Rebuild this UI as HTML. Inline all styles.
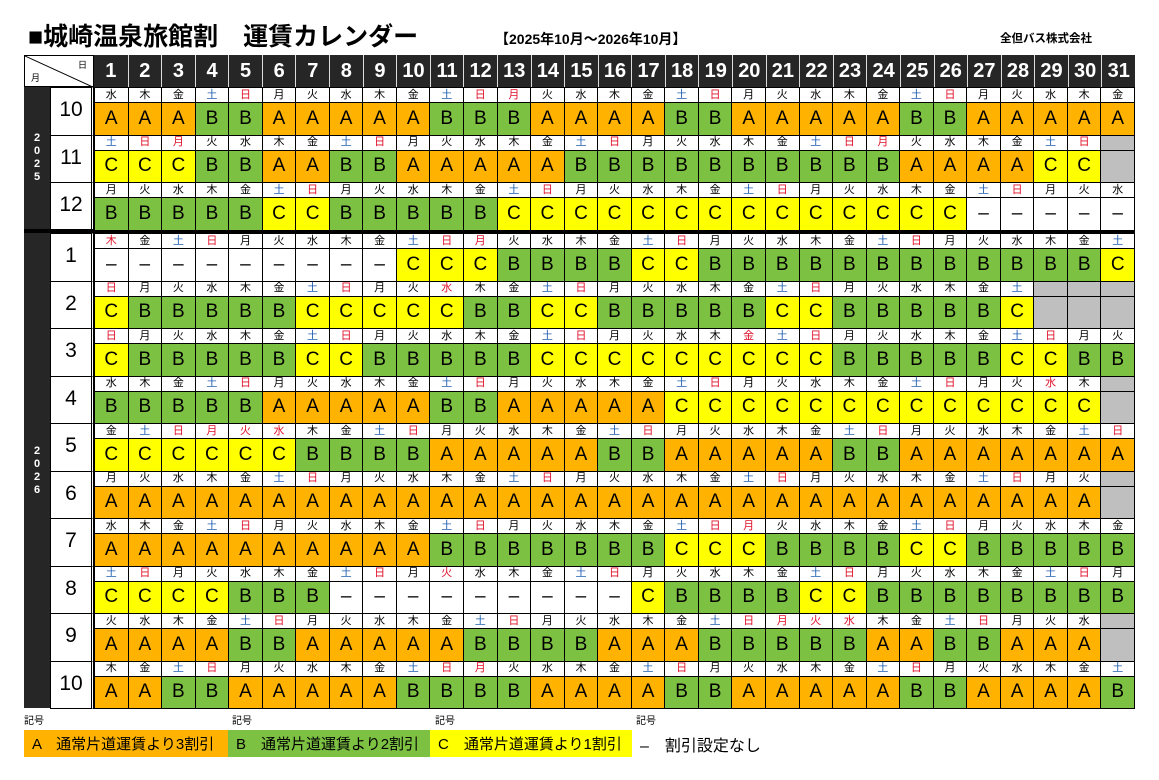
<!DOCTYPE html>
<html lang="ja"><head><meta charset="utf-8">
<style>
*{margin:0;padding:0;box-sizing:border-box}
body{width:1159px;height:780px;background:#fff;position:relative;overflow:hidden;font-family:"Liberation Sans","Noto Sans CJK JP",sans-serif;color:#000}
.abs{position:absolute}
.title{left:28px;top:22px;font-size:25px;font-weight:bold;white-space:nowrap;line-height:30px}
.period{left:495px;top:29px;font-size:14px;font-weight:bold;white-space:nowrap}
.co{left:1000px;top:30px;font-size:11.5px;font-weight:bold;white-space:nowrap}
.corner{left:24px;top:55px;width:70px;height:32px;border:1px solid #000;background:#fff;overflow:hidden}
.corner svg{position:absolute;left:0;top:0}
.corner .m{position:absolute;left:6px;bottom:2px;font-size:9px}
.corner .d{position:absolute;right:6px;top:2px;font-size:9px}
.hdr{left:94px;top:55px;width:1041px;height:32px;background:#262626;display:grid;grid-template-columns:repeat(31,1fr)}
.hdr span{color:#fff;font-weight:bold;font-size:20px;font-family:"Liberation Sans Narrow","Liberation Sans",sans-serif;display:flex;align-items:center;justify-content:center;border-left:1px solid #ddd}
.hdr span:first-child{border-left:none}
.yr{left:24px;width:26px;background:#262626;color:#fff;font-weight:bold;font-size:11px;display:flex;flex-direction:column;align-items:center;justify-content:center;line-height:13px}
.mo{left:50px;width:44px;background:#fff;border:1px solid #000;border-right:3px double #000;display:flex;align-items:center;justify-content:center;font-size:21px;padding-bottom:2px}
.grid{left:94px;width:1041px;display:grid;grid-template-columns:repeat(31,1fr);grid-auto-rows:15px 32.5px;border-top:1px solid #000;border-right:1px solid #000}
.grid i,.grid b{display:flex;align-items:center;justify-content:center;border-left:1px solid #000;border-bottom:1px solid #000;font-style:normal;font-weight:normal;background:#fff}
.grid i{font-size:11px;line-height:1}
.grid b{font-size:19px}
.grid i.s{color:#1f5fb0}
.grid i.h{color:#e0102a}
.grid .a{background:#FFB300}
.grid .b{background:#7DC143}
.grid .c{background:#FFFF00}
.grid .g{background:#BFBFBF}
.sep{left:24px;top:229px;width:1111px;height:4px;background:#000}
.lab{top:712px;font-size:10px}
.lg{top:730px;height:27px;font-size:15px;display:flex;align-items:center;padding-left:8px;white-space:nowrap}
</style></head><body>
<div class="abs title">■城崎温泉旅館割　運賃カレンダー</div>
<div class="abs period">【2025年10月～2026年10月】</div>
<div class="abs co">全但バス株式会社</div>

<div class="abs corner"><svg width="70" height="32"><line x1="0" y1="0" x2="70" y2="32" stroke="#000" stroke-width="1"/></svg><span class="m">月</span><span class="d">日</span></div>
<div class="abs hdr"><span>1</span><span>2</span><span>3</span><span>4</span><span>5</span><span>6</span><span>7</span><span>8</span><span>9</span><span>10</span><span>11</span><span>12</span><span>13</span><span>14</span><span>15</span><span>16</span><span>17</span><span>18</span><span>19</span><span>20</span><span>21</span><span>22</span><span>23</span><span>24</span><span>25</span><span>26</span><span>27</span><span>28</span><span>29</span><span>30</span><span>31</span></div>

<div class="abs yr" style="top:87px;height:142px">2<br>0<br>2<br>5</div>
<div class="abs yr" style="top:233px;height:475px">2<br>0<br>2<br>6</div>

<div class="abs mo" style="top:87px;height:48.5px">10</div>
<div class="abs mo" style="top:134.5px;height:48.5px">11</div>
<div class="abs mo" style="top:182px;height:48px">12</div>
<div class="abs mo" style="top:233px;height:48.5px">1</div>
<div class="abs mo" style="top:280.5px;height:48.5px">2</div>
<div class="abs mo" style="top:328px;height:48.5px">3</div>
<div class="abs mo" style="top:375.5px;height:48.5px">4</div>
<div class="abs mo" style="top:423px;height:48.5px">5</div>
<div class="abs mo" style="top:470.5px;height:48.5px">6</div>
<div class="abs mo" style="top:518px;height:48.5px">7</div>
<div class="abs mo" style="top:565.5px;height:48.5px">8</div>
<div class="abs mo" style="top:613px;height:48.5px">9</div>
<div class="abs mo" style="top:660.5px;height:48px">10</div>

<div class="abs sep"></div>

<div class="abs grid" style="top:87px">
<i>水</i><i>木</i><i>金</i><i class=s>土</i><i class=h>日</i><i>月</i><i>火</i><i>水</i><i>木</i><i>金</i><i class=s>土</i><i class=h>日</i><i class=h>月</i><i>火</i><i>水</i><i>木</i><i>金</i><i class=s>土</i><i class=h>日</i><i>月</i><i>火</i><i>水</i><i>木</i><i>金</i><i class=s>土</i><i class=h>日</i><i>月</i><i>火</i><i>水</i><i>木</i><i>金</i>
<b class=a>A</b><b class=a>A</b><b class=a>A</b><b class=b>B</b><b class=b>B</b><b class=a>A</b><b class=a>A</b><b class=a>A</b><b class=a>A</b><b class=a>A</b><b class=b>B</b><b class=b>B</b><b class=b>B</b><b class=a>A</b><b class=a>A</b><b class=a>A</b><b class=a>A</b><b class=b>B</b><b class=b>B</b><b class=a>A</b><b class=a>A</b><b class=a>A</b><b class=a>A</b><b class=a>A</b><b class=b>B</b><b class=b>B</b><b class=a>A</b><b class=a>A</b><b class=a>A</b><b class=a>A</b><b class=a>A</b>
<i class=s>土</i><i class=h>日</i><i class=h>月</i><i>火</i><i>水</i><i>木</i><i>金</i><i class=s>土</i><i class=h>日</i><i>月</i><i>火</i><i>水</i><i>木</i><i>金</i><i class=s>土</i><i class=h>日</i><i>月</i><i>火</i><i>水</i><i>木</i><i>金</i><i class=s>土</i><i class=h>日</i><i class=h>月</i><i>火</i><i>水</i><i>木</i><i>金</i><i class=s>土</i><i class=h>日</i><i class=g></i>
<b class=c>C</b><b class=c>C</b><b class=c>C</b><b class=b>B</b><b class=b>B</b><b class=a>A</b><b class=a>A</b><b class=b>B</b><b class=b>B</b><b class=a>A</b><b class=a>A</b><b class=a>A</b><b class=a>A</b><b class=a>A</b><b class=b>B</b><b class=b>B</b><b class=b>B</b><b class=b>B</b><b class=b>B</b><b class=b>B</b><b class=b>B</b><b class=b>B</b><b class=b>B</b><b class=b>B</b><b class=a>A</b><b class=a>A</b><b class=a>A</b><b class=a>A</b><b class=c>C</b><b class=c>C</b><b class=g></b>
<i>月</i><i>火</i><i>水</i><i>木</i><i>金</i><i class=s>土</i><i class=h>日</i><i>月</i><i>火</i><i>水</i><i>木</i><i>金</i><i class=s>土</i><i class=h>日</i><i>月</i><i>火</i><i>水</i><i>木</i><i>金</i><i class=s>土</i><i class=h>日</i><i>月</i><i>火</i><i>水</i><i>木</i><i>金</i><i class=s>土</i><i class=h>日</i><i>月</i><i>火</i><i>水</i>
<b class=b>B</b><b class=b>B</b><b class=b>B</b><b class=b>B</b><b class=b>B</b><b class=c>C</b><b class=c>C</b><b class=b>B</b><b class=b>B</b><b class=b>B</b><b class=b>B</b><b class=b>B</b><b class=c>C</b><b class=c>C</b><b class=c>C</b><b class=c>C</b><b class=c>C</b><b class=c>C</b><b class=c>C</b><b class=c>C</b><b class=c>C</b><b class=c>C</b><b class=c>C</b><b class=c>C</b><b class=c>C</b><b class=c>C</b><b>–</b><b>–</b><b>–</b><b>–</b><b>–</b>
</div>

<div class="abs grid" style="top:233px">
<i class=h>木</i><i>金</i><i class=s>土</i><i class=h>日</i><i>月</i><i>火</i><i>水</i><i>木</i><i>金</i><i class=s>土</i><i class=h>日</i><i class=h>月</i><i>火</i><i>水</i><i>木</i><i>金</i><i class=s>土</i><i class=h>日</i><i>月</i><i>火</i><i>水</i><i>木</i><i>金</i><i class=s>土</i><i class=h>日</i><i>月</i><i>火</i><i>水</i><i>木</i><i>金</i><i class=s>土</i>
<b>–</b><b>–</b><b>–</b><b>–</b><b>–</b><b>–</b><b>–</b><b>–</b><b>–</b><b class=c>C</b><b class=c>C</b><b class=c>C</b><b class=b>B</b><b class=b>B</b><b class=b>B</b><b class=b>B</b><b class=c>C</b><b class=c>C</b><b class=b>B</b><b class=b>B</b><b class=b>B</b><b class=b>B</b><b class=b>B</b><b class=b>B</b><b class=b>B</b><b class=b>B</b><b class=b>B</b><b class=b>B</b><b class=b>B</b><b class=b>B</b><b class=c>C</b>
<i class=h>日</i><i>月</i><i>火</i><i>水</i><i>木</i><i>金</i><i class=s>土</i><i class=h>日</i><i>月</i><i>火</i><i class=h>水</i><i>木</i><i>金</i><i class=s>土</i><i class=h>日</i><i>月</i><i>火</i><i>水</i><i>木</i><i>金</i><i class=s>土</i><i class=h>日</i><i>月</i><i>火</i><i>水</i><i>木</i><i>金</i><i class=s>土</i><i class=g></i><i class=g></i><i class=g></i>
<b class=c>C</b><b class=b>B</b><b class=b>B</b><b class=b>B</b><b class=b>B</b><b class=b>B</b><b class=c>C</b><b class=c>C</b><b class=c>C</b><b class=c>C</b><b class=c>C</b><b class=b>B</b><b class=b>B</b><b class=c>C</b><b class=c>C</b><b class=b>B</b><b class=b>B</b><b class=b>B</b><b class=b>B</b><b class=b>B</b><b class=c>C</b><b class=c>C</b><b class=b>B</b><b class=b>B</b><b class=b>B</b><b class=b>B</b><b class=b>B</b><b class=c>C</b><b class=g></b><b class=g></b><b class=g></b>
<i class=h>日</i><i>月</i><i>火</i><i>水</i><i>木</i><i>金</i><i class=s>土</i><i class=h>日</i><i>月</i><i>火</i><i>水</i><i>木</i><i>金</i><i class=s>土</i><i class=h>日</i><i>月</i><i>火</i><i>水</i><i>木</i><i class=h>金</i><i class=s>土</i><i class=h>日</i><i>月</i><i>火</i><i>水</i><i>木</i><i>金</i><i class=s>土</i><i class=h>日</i><i>月</i><i>火</i>
<b class=c>C</b><b class=b>B</b><b class=b>B</b><b class=b>B</b><b class=b>B</b><b class=b>B</b><b class=c>C</b><b class=c>C</b><b class=b>B</b><b class=b>B</b><b class=b>B</b><b class=b>B</b><b class=b>B</b><b class=c>C</b><b class=c>C</b><b class=c>C</b><b class=c>C</b><b class=c>C</b><b class=c>C</b><b class=c>C</b><b class=c>C</b><b class=c>C</b><b class=b>B</b><b class=b>B</b><b class=b>B</b><b class=b>B</b><b class=b>B</b><b class=c>C</b><b class=c>C</b><b class=b>B</b><b class=b>B</b>
<i>水</i><i>木</i><i>金</i><i class=s>土</i><i class=h>日</i><i>月</i><i>火</i><i>水</i><i>木</i><i>金</i><i class=s>土</i><i class=h>日</i><i>月</i><i>火</i><i>水</i><i>木</i><i>金</i><i class=s>土</i><i class=h>日</i><i>月</i><i>火</i><i>水</i><i>木</i><i>金</i><i class=s>土</i><i class=h>日</i><i>月</i><i>火</i><i class=h>水</i><i>木</i><i class=g></i>
<b class=b>B</b><b class=b>B</b><b class=b>B</b><b class=b>B</b><b class=b>B</b><b class=a>A</b><b class=a>A</b><b class=a>A</b><b class=a>A</b><b class=a>A</b><b class=b>B</b><b class=b>B</b><b class=a>A</b><b class=a>A</b><b class=a>A</b><b class=a>A</b><b class=a>A</b><b class=c>C</b><b class=c>C</b><b class=c>C</b><b class=c>C</b><b class=c>C</b><b class=c>C</b><b class=c>C</b><b class=c>C</b><b class=c>C</b><b class=c>C</b><b class=c>C</b><b class=c>C</b><b class=c>C</b><b class=g></b>
<i>金</i><i class=s>土</i><i class=h>日</i><i class=h>月</i><i class=h>火</i><i class=h>水</i><i>木</i><i>金</i><i class=s>土</i><i class=h>日</i><i>月</i><i>火</i><i>水</i><i>木</i><i>金</i><i class=s>土</i><i class=h>日</i><i>月</i><i>火</i><i>水</i><i>木</i><i>金</i><i class=s>土</i><i class=h>日</i><i>月</i><i>火</i><i>水</i><i>木</i><i>金</i><i class=s>土</i><i class=h>日</i>
<b class=c>C</b><b class=c>C</b><b class=c>C</b><b class=c>C</b><b class=c>C</b><b class=c>C</b><b class=b>B</b><b class=b>B</b><b class=b>B</b><b class=b>B</b><b class=a>A</b><b class=a>A</b><b class=a>A</b><b class=a>A</b><b class=a>A</b><b class=b>B</b><b class=b>B</b><b class=a>A</b><b class=a>A</b><b class=a>A</b><b class=a>A</b><b class=a>A</b><b class=b>B</b><b class=b>B</b><b class=a>A</b><b class=a>A</b><b class=a>A</b><b class=a>A</b><b class=a>A</b><b class=a>A</b><b class=a>A</b>
<i>月</i><i>火</i><i>水</i><i>木</i><i>金</i><i class=s>土</i><i class=h>日</i><i>月</i><i>火</i><i>水</i><i>木</i><i>金</i><i class=s>土</i><i class=h>日</i><i>月</i><i>火</i><i>水</i><i>木</i><i>金</i><i class=s>土</i><i class=h>日</i><i>月</i><i>火</i><i>水</i><i>木</i><i>金</i><i class=s>土</i><i class=h>日</i><i>月</i><i>火</i><i class=g></i>
<b class=a>A</b><b class=a>A</b><b class=a>A</b><b class=a>A</b><b class=a>A</b><b class=a>A</b><b class=a>A</b><b class=a>A</b><b class=a>A</b><b class=a>A</b><b class=a>A</b><b class=a>A</b><b class=a>A</b><b class=a>A</b><b class=a>A</b><b class=a>A</b><b class=a>A</b><b class=a>A</b><b class=a>A</b><b class=a>A</b><b class=a>A</b><b class=a>A</b><b class=a>A</b><b class=a>A</b><b class=a>A</b><b class=a>A</b><b class=a>A</b><b class=a>A</b><b class=a>A</b><b class=a>A</b><b class=g></b>
<i>水</i><i>木</i><i>金</i><i class=s>土</i><i class=h>日</i><i>月</i><i>火</i><i>水</i><i>木</i><i>金</i><i class=s>土</i><i class=h>日</i><i>月</i><i>火</i><i>水</i><i>木</i><i>金</i><i class=s>土</i><i class=h>日</i><i class=h>月</i><i>火</i><i>水</i><i>木</i><i>金</i><i class=s>土</i><i class=h>日</i><i>月</i><i>火</i><i>水</i><i>木</i><i>金</i>
<b class=a>A</b><b class=a>A</b><b class=a>A</b><b class=a>A</b><b class=a>A</b><b class=a>A</b><b class=a>A</b><b class=a>A</b><b class=a>A</b><b class=a>A</b><b class=b>B</b><b class=b>B</b><b class=b>B</b><b class=b>B</b><b class=b>B</b><b class=b>B</b><b class=b>B</b><b class=c>C</b><b class=c>C</b><b class=c>C</b><b class=b>B</b><b class=b>B</b><b class=b>B</b><b class=b>B</b><b class=c>C</b><b class=c>C</b><b class=b>B</b><b class=b>B</b><b class=b>B</b><b class=b>B</b><b class=b>B</b>
<i class=s>土</i><i class=h>日</i><i>月</i><i>火</i><i>水</i><i>木</i><i>金</i><i class=s>土</i><i class=h>日</i><i>月</i><i class=h>火</i><i>水</i><i>木</i><i>金</i><i class=s>土</i><i class=h>日</i><i>月</i><i>火</i><i>水</i><i>木</i><i>金</i><i class=s>土</i><i class=h>日</i><i>月</i><i>火</i><i>水</i><i>木</i><i>金</i><i class=s>土</i><i class=h>日</i><i>月</i>
<b class=c>C</b><b class=c>C</b><b class=c>C</b><b class=c>C</b><b class=b>B</b><b class=b>B</b><b class=b>B</b><b>–</b><b>–</b><b>–</b><b>–</b><b>–</b><b>–</b><b>–</b><b>–</b><b>–</b><b class=c>C</b><b class=b>B</b><b class=b>B</b><b class=b>B</b><b class=b>B</b><b class=c>C</b><b class=c>C</b><b class=b>B</b><b class=b>B</b><b class=b>B</b><b class=b>B</b><b class=b>B</b><b class=b>B</b><b class=b>B</b><b class=b>B</b>
<i>火</i><i>水</i><i>木</i><i>金</i><i class=s>土</i><i class=h>日</i><i>月</i><i>火</i><i>水</i><i>木</i><i>金</i><i class=s>土</i><i class=h>日</i><i>月</i><i>火</i><i>水</i><i>木</i><i>金</i><i class=s>土</i><i class=h>日</i><i class=h>月</i><i class=h>火</i><i class=h>水</i><i>木</i><i>金</i><i class=s>土</i><i class=h>日</i><i>月</i><i>火</i><i>水</i><i class=g></i>
<b class=a>A</b><b class=a>A</b><b class=a>A</b><b class=a>A</b><b class=b>B</b><b class=b>B</b><b class=a>A</b><b class=a>A</b><b class=a>A</b><b class=a>A</b><b class=a>A</b><b class=b>B</b><b class=b>B</b><b class=b>B</b><b class=b>B</b><b class=a>A</b><b class=a>A</b><b class=a>A</b><b class=b>B</b><b class=b>B</b><b class=b>B</b><b class=b>B</b><b class=b>B</b><b class=a>A</b><b class=a>A</b><b class=b>B</b><b class=b>B</b><b class=a>A</b><b class=a>A</b><b class=a>A</b><b class=g></b>
<i>木</i><i>金</i><i class=s>土</i><i class=h>日</i><i>月</i><i>火</i><i>水</i><i>木</i><i>金</i><i class=s>土</i><i class=h>日</i><i class=h>月</i><i>火</i><i>水</i><i>木</i><i>金</i><i class=s>土</i><i class=h>日</i><i>月</i><i>火</i><i>水</i><i>木</i><i>金</i><i class=s>土</i><i class=h>日</i><i>月</i><i>火</i><i>水</i><i>木</i><i>金</i><i class=s>土</i>
<b class=a>A</b><b class=a>A</b><b class=b>B</b><b class=b>B</b><b class=a>A</b><b class=a>A</b><b class=a>A</b><b class=a>A</b><b class=a>A</b><b class=b>B</b><b class=b>B</b><b class=b>B</b><b class=b>B</b><b class=a>A</b><b class=a>A</b><b class=a>A</b><b class=a>A</b><b class=b>B</b><b class=b>B</b><b class=a>A</b><b class=a>A</b><b class=a>A</b><b class=a>A</b><b class=a>A</b><b class=b>B</b><b class=b>B</b><b class=a>A</b><b class=a>A</b><b class=a>A</b><b class=a>A</b><b class=b>B</b>
</div>

<div class="abs lab" style="left:24px">記号</div>
<div class="abs lab" style="left:232px">記号</div>
<div class="abs lab" style="left:435px">記号</div>
<div class="abs lab" style="left:636px">記号</div>
<div class="abs lg" style="left:24px;width:204px;background:#FFB300">A　通常片道運賃より3割引</div>
<div class="abs lg" style="left:228px;width:202px;background:#7DC143">B　通常片道運賃より2割引</div>
<div class="abs lg" style="left:430px;width:202px;background:#FFFF00">C　通常片道運賃より1割引</div>
<div class="abs lg" style="left:632px;width:200px;font-size:16px">–　割引設定なし</div>
</body></html>
